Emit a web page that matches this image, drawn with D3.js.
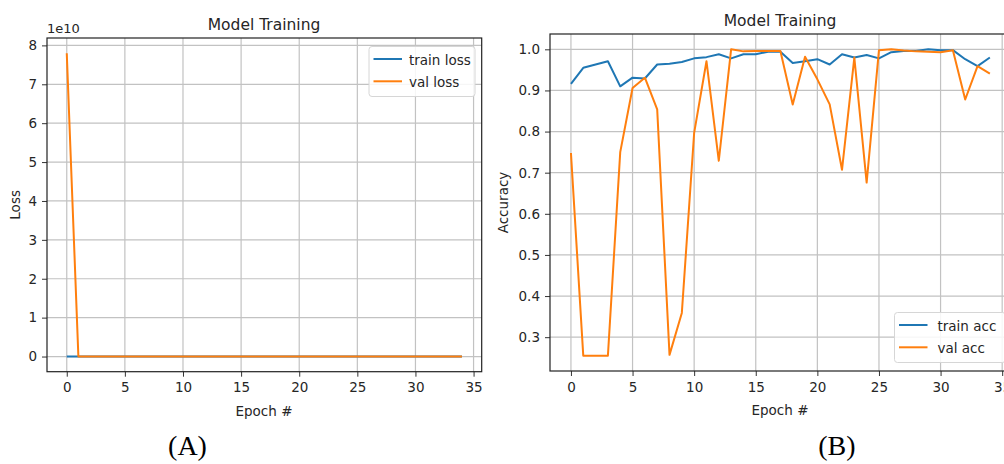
<!DOCTYPE html>
<html lang="en">
<head>
    <meta charset="UTF-8">
    <title>Model Training</title>
    <script src="https://d3js.org/d3.v7.min.js"></script>
    <style>
        html, body {
            margin: 0;
            background: #fff;
        }

        text {
            font-family: "DejaVu Sans", sans-serif;
            fill: #262626;
        }

        .grid line {
            stroke: #c2c2c2;
            stroke-width: 1.2px;
        }

        .series {
            fill: none;
            stroke-width: 2px;
            stroke-linejoin: round;
        }
    </style>
</head>
<body>
<script>

    // ---- data ----
    var epochs = [0, 1, 2, 3, 4, 5, 6, 7, 8, 9, 10, 11, 12, 13, 14, 15, 16, 17, 18, 19,
        20, 21, 22, 23, 24, 25, 26, 27, 28, 29, 30, 31, 32, 33, 34];

    // loss values (all except the first val loss sit on the zero line)
    var trainLoss = [0.69, 0.41, 0.35, 0.31, 0.42, 0.30, 0.29, 0.24, 0.22, 0.21, 0.19, 0.17,
        0.15, 0.18, 0.14, 0.13, 0.11, 0.10, 0.16, 0.15, 0.13, 0.17, 0.10, 0.12, 0.09,
        0.11, 0.06, 0.05, 0.05, 0.03, 0.04, 0.04, 0.12, 0.15, 0.10];
    var valLoss = [7.8e10, 9.4, 8.7, 9.1, 1.2, 0.45, 0.31, 0.62, 11.3, 6.2, 0.71, 0.18,
        1.1, 0.04, 0.05, 0.05, 0.05, 0.04, 0.62, 0.09, 0.33, 0.58, 1.4, 0.11, 1.7,
        0.03, 0.02, 0.03, 0.04, 0.04, 0.05, 0.03, 0.52, 0.17, 0.24];

    var trainAcc = [0.916, 0.955, 0.963, 0.971, 0.910, 0.931, 0.929, 0.963, 0.965, 0.969,
        0.978, 0.981, 0.988, 0.978, 0.988, 0.988, 0.994, 0.994, 0.967, 0.971, 0.976,
        0.963, 0.988, 0.980, 0.986, 0.978, 0.993, 0.996, 0.996, 1.000, 0.998, 0.998,
        0.976, 0.959, 0.980];
    var valAcc = [0.748, 0.255, 0.255, 0.255, 0.750, 0.906, 0.931, 0.854, 0.257, 0.359,
        0.797, 0.971, 0.729, 1.000, 0.995, 0.996, 0.996, 0.996, 0.866, 0.982, 0.927,
        0.866, 0.707, 0.980, 0.676, 0.998, 1.000, 0.997, 0.995, 0.994, 0.993, 0.998,
        0.878, 0.959, 0.941];

    var xTicks = [0, 5, 10, 15, 20, 25, 30, 35];
    var lossTicks = [0, 1e10, 2e10, 3e10, 4e10, 5e10, 6e10, 7e10, 8e10];
    var accTicks = [0.3, 0.4, 0.5, 0.6, 0.7, 0.8, 0.9, 1.0];

    var blue = '#1f77b4', orange = '#ff7f0e';

    var svg = d3.select('body').append('svg')
        .attr('width', 1004).attr('height', 464);

    // matplotlib-like 5% padding of the data range
    function padded(lo, hi) {
        var p = (hi - lo) * 0.05;
        return [lo - p, hi + p];
    }

    function drawPanel(cfg) {
        var x = d3.scaleLinear().domain(padded(0, 34)).range([cfg.left, cfg.right]);
        var allY = cfg.series[0].values.concat(cfg.series[1].values);
        var y = d3.scaleLinear().domain(padded(d3.min(allY), d3.max(allY)))
            .range([cfg.bottom, cfg.top]);

        var g = svg.append('g');

        // grid
        var grid = g.append('g').attr('class', 'grid');
        grid.selectAll('.vx').data(xTicks).enter().append('line')
            .attr('x1', function (d) { return x(d); })
            .attr('x2', function (d) { return x(d); })
            .attr('y1', cfg.top).attr('y2', cfg.bottom);
        grid.selectAll('.hy').data(cfg.yTicks).enter().append('line')
            .attr('x1', cfg.left).attr('x2', cfg.right)
            .attr('y1', function (d) { return y(d); })
            .attr('y2', function (d) { return y(d); });

        // lines
        cfg.series.forEach(function (s) {
            var line = d3.line()
                .x(function (d, i) { return x(epochs[i]); })
                .y(function (d) { return y(d); });
            g.append('path').attr('class', 'series')
                .attr('stroke', s.color)
                .attr('d', line(s.values));
        });

        // axes
        var xAxis = d3.axisBottom(x).tickValues(xTicks).tickSize(5).tickPadding(6)
            .tickFormat(d3.format('d'));
        var yAxis = d3.axisLeft(y).tickValues(cfg.yTicks).tickSize(5).tickPadding(5)
            .tickFormat(cfg.yFormat);

        var ax = g.append('g').attr('transform', 'translate(0,' + cfg.bottom + ')').call(xAxis);
        var ay = g.append('g').attr('transform', 'translate(' + cfg.left + ',0)').call(yAxis);
        [ax, ay].forEach(function (a) {
            a.select('.domain').remove();
            a.selectAll('line').attr('stroke', '#333').attr('stroke-width', 1);
            a.selectAll('text').style('font-size', '13.5px').attr('fill', '#262626');
        });

        // frame
        g.append('rect')
            .attr('x', cfg.left).attr('y', cfg.top)
            .attr('width', cfg.right - cfg.left).attr('height', cfg.bottom - cfg.top)
            .attr('fill', 'none').attr('stroke', '#222').attr('stroke-width', 1.2);

        // title + labels
        g.append('text')
            .attr('x', cfg.titleX).attr('y', cfg.top - 8)
            .attr('text-anchor', 'middle').style('font-size', '15.5px')
            .text('Model Training');
        g.append('text').attr('x', cfg.titleX).attr('y', cfg.bottom + 44)
            .attr('text-anchor', 'middle').style('font-size', '13.5px')
            .text('Epoch #');
        g.append('text')
            .attr('transform', 'translate(' + cfg.yLabelX + ',' + ((cfg.top + cfg.bottom) / 2) + ') rotate(-90)')
            .attr('text-anchor', 'middle').style('font-size', '13.5px')
            .text(cfg.yLabel);
        if (cfg.offsetText) {
            g.append('text').attr('x', cfg.left).attr('y', cfg.top - 5)
                .style('font-size', '13px').text(cfg.offsetText);
        }

        // legend
        var lg = g.append('g').attr('transform', 'translate(' + cfg.legend.x + ',' + cfg.legend.y + ')');
        lg.append('rect').attr('width', cfg.legend.w).attr('height', 50).attr('rx', 3)
            .attr('fill', 'rgba(255,255,255,0.85)').attr('stroke', '#d6d6d6');
        cfg.series.forEach(function (s, i) {
            var yy = 12.5 + i * 22.3;
            lg.append('line').attr('x1', 4.5).attr('x2', 33).attr('y1', yy).attr('y2', yy)
                .attr('stroke', s.color).attr('stroke-width', 2);
            lg.append('text').attr('x', cfg.legend.textDx).attr('y', yy + 5.5)
                .style('font-size', '13.5px').text(s.name);
        });

        // panel caption
        svg.append('text').attr('x', cfg.captionX).attr('y', 455)
            .attr('text-anchor', 'middle')
            .style('font-family', '"Liberation Serif", "Times New Roman", serif')
            .style('font-size', '28px').style('fill', '#000')
            .text(cfg.caption);
    }

    drawPanel({
        left: 47, right: 481.7, top: 38, bottom: 371.7,
        titleX: 264, yLabelX: 20, yLabel: 'Loss',
        yTicks: lossTicks,
        yFormat: function (d) { return d3.format('d')(d / 1e10); },
        offsetText: '1e10',
        series: [
            {name: 'train loss', values: trainLoss, color: blue},
            {name: 'val loss', values: valLoss, color: orange}
        ],
        legend: {x: 369, y: 46.5, w: 106, textDx: 40},
        caption: '(A)', captionX: 187.5
    });

    drawPanel({
        left: 550, right: 1010.8, top: 34, bottom: 371,
        titleX: 780, yLabelX: 508, yLabel: 'Accuracy',
        yTicks: accTicks,
        yFormat: d3.format('.1f'),
        offsetText: null,
        series: [
            {name: 'train acc', values: trainAcc, color: blue},
            {name: 'val acc', values: valAcc, color: orange}
        ],
        legend: {x: 894.5, y: 312.5, w: 111, textDx: 43},
        caption: '(B)', captionX: 836.8
    });

</script>
</body>
</html>
